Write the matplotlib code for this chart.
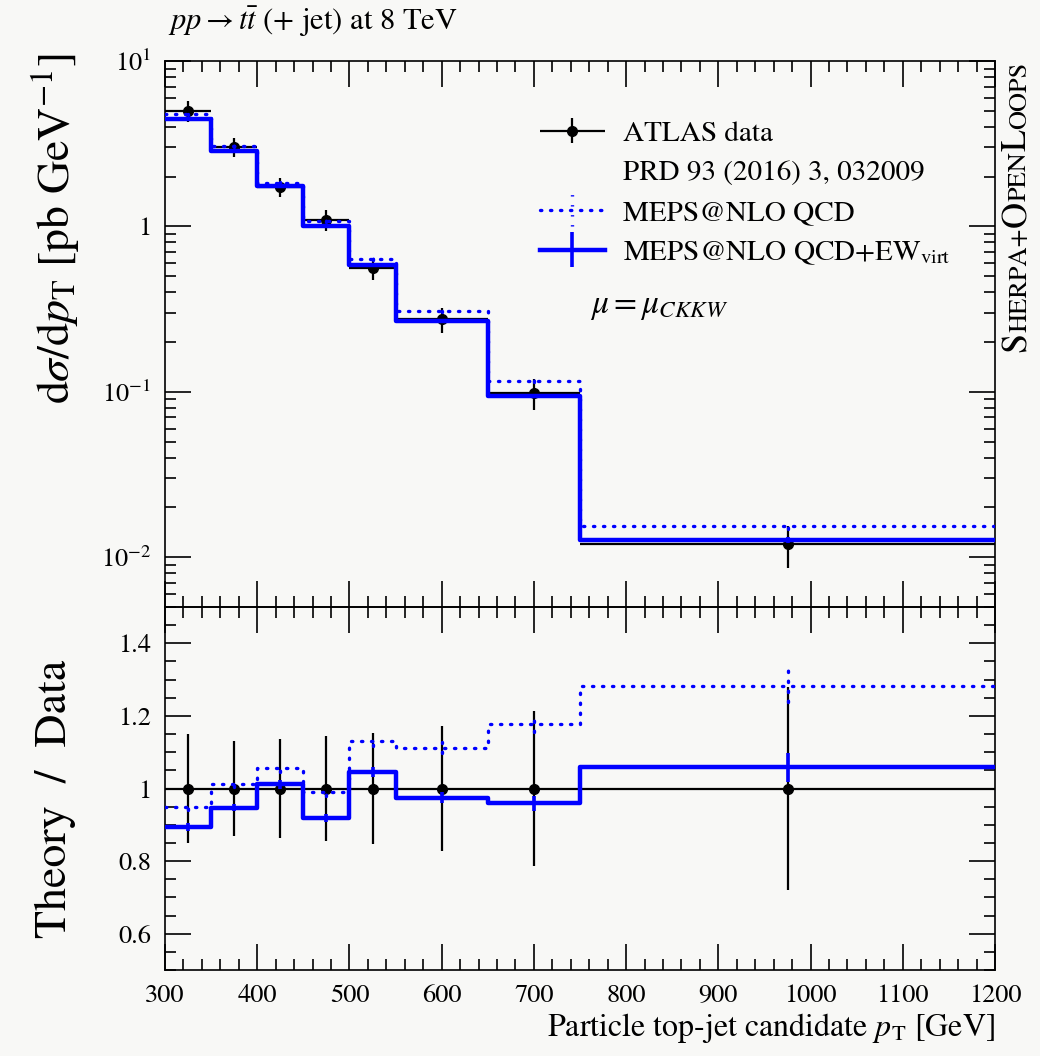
import numpy as np
import matplotlib
matplotlib.use("Agg")
import matplotlib.pyplot as plt
from matplotlib.ticker import MultipleLocator, FixedLocator, NullFormatter, LogLocator
from matplotlib.legend_handler import HandlerTuple, HandlerErrorbar
from matplotlib.lines import Line2D

plt.rcParams['font.family'] = ['STIXGeneral', 'DejaVu Serif']
plt.rcParams['mathtext.fontset'] = 'stix'

# bin edges of the top-jet candidate pT [GeV]
edges = np.array([300, 350, 400, 450, 500, 550, 650, 750, 1200])

# ATLAS data, dsigma/dpT [pb/GeV] and total uncertainty
data = np.array([5.0, 3.03, 1.74, 1.09, 0.56, 0.275, 0.0986, 0.0120])
data_err = np.array([0.75, 0.40, 0.235, 0.158, 0.085, 0.047, 0.0211, 0.00336])

# MEPS@NLO QCD
qcd = np.array([4.75, 3.07, 1.84, 1.08, 0.633, 0.306, 0.116, 0.0154])
qcd_err = np.array([0.05, 0.03, 0.02, 0.012, 0.008, 0.004, 0.002, 0.00055])

# MEPS@NLO QCD+EW_virt
ew = np.array([4.47, 2.87, 1.76, 1.00, 0.585, 0.268, 0.0946, 0.0127])
ew_err = np.array([0.05, 0.03, 0.02, 0.012, 0.008, 0.004, 0.002, 0.00048])

centers = 0.5 * (edges[1:] + edges[:-1])
halfw = 0.5 * (edges[1:] - edges[:-1])

BLUE = '#0000ff'
BG = '#f8f8f6'
DOTS = (0, (0.4, 2.6))


def steps(vals):
    return np.append(vals, vals[-1])


def dotted_bars(container):
    for lc in container[2]:
        lc.set_linestyle(DOTS)
        lc.set_capstyle('round')


fig = plt.figure(figsize=(10.4, 10.56), dpi=100, facecolor=BG)
ax = fig.add_axes([165/1040, 1 - 607/1056, 830/1040, 546/1056])
rx = fig.add_axes([165/1040, 1 - 970/1056, 830/1040, 363/1056], sharex=ax)
for a in (ax, rx):
    a.set_facecolor('none')
    for s in a.spines.values():
        s.set_linewidth(1.2)

# --- main panel
hd = ax.errorbar(centers, data, xerr=halfw, yerr=data_err, fmt='o', color='black',
                 ms=7, lw=1.6, capsize=0, zorder=3)
lq, = ax.step(edges, steps(qcd), where='post', color=BLUE, lw=2.4,
              linestyle=DOTS, dash_capstyle='round', zorder=4)
eq = ax.errorbar(centers, qcd, yerr=qcd_err, fmt='', linestyle='none', marker='none',
                 ecolor=BLUE, elinewidth=2.4, zorder=4)
dotted_bars(eq)
le, = ax.step(edges, steps(ew), where='post', color=BLUE, lw=3.2, zorder=5)
ee = ax.errorbar(centers, ew, yerr=ew_err, fmt='', linestyle='none', marker='none',
                 ecolor=BLUE, elinewidth=2.6, zorder=5)

ax.set_yscale('log')
ax.set_ylim(0.005, 10)
ax.set_xlim(300, 1200)
ax.yaxis.set_major_locator(FixedLocator([0.01, 0.1, 1, 10]))
ax.set_yticklabels([r'$10^{-2}$', r'$10^{-1}$', '1', r'$10^{1}$'])
ax.yaxis.set_minor_locator(LogLocator(base=10, subs=np.arange(2, 10)))
ax.yaxis.set_minor_formatter(NullFormatter())
ax.tick_params(labelbottom=False)
ax.set_ylabel(r'$\mathrm{d}\sigma/\mathrm{d}p_\mathrm{T}$ [pb GeV$^{-1}$]',
              fontsize=33, loc='top')
ax.yaxis.set_label_coords(-0.1, 1.015)

blank = Line2D([], [], linestyle='none')
leg = ax.legend([hd, blank, (lq, eq), (le, ee)],
                ['ATLAS data', 'PRD 93 (2016) 3, 032009', 'MEPS@NLO QCD',
                 r'MEPS@NLO QCD+EW$_\mathrm{virt}$'],
                handler_map={tuple: HandlerTuple(ndivide=1),
                             hd: HandlerErrorbar(xerr_size=1.12, yerr_size=0.42),
                             eq: HandlerErrorbar(yerr_size=0.55),
                             ee: HandlerErrorbar(yerr_size=0.6)},
                loc='upper left', bbox_to_anchor=(0.434, 0.918), frameon=False,
                fontsize=21, handlelength=2.24, handletextpad=0.62, labelspacing=0.45,
                borderpad=0)
ax.text(0.512, 0.549, r'$\mu = \mu_{CKKW}$', transform=ax.transAxes, fontsize=24,
        va='center', ha='left')

# --- ratio panel
rx.errorbar(centers, data / data, xerr=halfw, yerr=data_err / data, fmt='o',
            color='black', ms=7, lw=1.6, capsize=0, zorder=3)
rx.step(edges, steps(qcd / data), where='post', color=BLUE, lw=2.4,
        linestyle=DOTS, dash_capstyle='round', zorder=4)
rq = rx.errorbar(centers, qcd / data, yerr=qcd_err / data, fmt='none', ecolor=BLUE,
                 elinewidth=2.4, zorder=4)
dotted_bars(rq)
rx.step(edges, steps(ew / data), where='post', color=BLUE, lw=3.2, zorder=5)
rx.errorbar(centers, ew / data, yerr=ew_err / data, fmt='none', ecolor=BLUE,
            elinewidth=2.6, zorder=5)

rx.set_ylim(0.5, 1.5)
rx.yaxis.set_major_locator(FixedLocator([0.6, 0.8, 1.0, 1.2, 1.4]))
rx.set_yticklabels(['0.6', '0.8', '1', '1.2', '1.4'])
rx.yaxis.set_minor_locator(MultipleLocator(0.05))
rx.xaxis.set_major_locator(MultipleLocator(100))
rx.xaxis.set_minor_locator(MultipleLocator(20))
rx.set_ylabel('Theory  /  Data', fontsize=33)
rx.yaxis.set_label_coords(-0.107, 0.47)
rx.set_xlabel(r'Particle top-jet candidate $p_\mathrm{T}$ [GeV]', fontsize=23,
              loc='right', labelpad=2)

for a in (ax, rx):
    a.tick_params(which='both', direction='in', top=True, right=True, width=1.2,
                  labelsize=19, pad=10)
    a.tick_params(which='major', length=19)
    a.tick_params(which='minor', length=8)

fig.text(168/1040, 1 - 22/1056, r'$pp \rightarrow t\bar{t}$ (+ jet) at 8 TeV',
         fontsize=22, va='center', ha='left')

# rotated small-caps generator tag on the right edge
renderer = fig.canvas.get_renderer()
y = 1 - 352/1056
for piece, size in [('S', 26), ('HERPA+', 19), ('O', 26), ('PEN', 19),
                    ('L', 26), ('OOPS', 19)]:
    t = fig.text(1026/1040, y, piece, fontsize=size, rotation=90,
                 rotation_mode='anchor', ha='left', va='baseline')
    ext = t.get_window_extent(renderer)
    y += ext.height / fig.bbox.height

fig.savefig('out.png', dpi=100, facecolor=BG)
